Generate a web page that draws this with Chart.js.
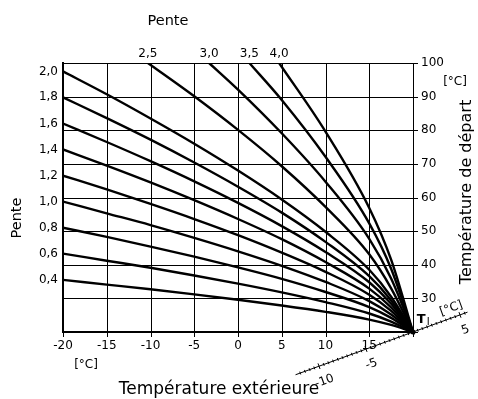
<!DOCTYPE html>
<html>
<head>
<meta charset="utf-8">
<script src="https://cdn.jsdelivr.net/npm/chart.js@4"></script>
<style>
  html, body { margin: 0; padding: 0; background: #fff; }
  #wrap { width: 478px; height: 399px; }
</style>
</head>
<body>
<div id="wrap"><canvas id="chart" width="478" height="399"></canvas></div>
<script>
// DATA
const outdoorTemps = [-20, -15, -10, -5, 0, 5, 10, 15, 17.5, 20];

const slopeLabels = ["0,4", "0,6", "0,8", "1,0", "1,2", "1,4", "1,6", "1,8", "2,0", "2,5", "3,0", "3,5", "4,0"];

const flow04 = [35.5, 34.1, 32.7, 31.2, 29.6, 27.9, 26.0, 23.7, 22.1, 20];
const flow06 = [43.3, 41.2, 39.1, 36.8, 34.4, 31.8, 28.9, 25.5, 23.1, 20];
const flow08 = [51.0, 48.3, 45.4, 42.4, 39.2, 35.8, 31.9, 27.4, 24.2, 20];
const flow10 = [58.8, 55.3, 51.8, 48.0, 44.0, 39.7, 34.9, 29.2, 25.2, 20];
const flow12 = [66.5, 62.4, 58.1, 53.6, 48.8, 43.6, 37.9, 31.1, 26.3, 20];
const flow14 = [74.3, 69.5, 64.5, 59.2, 53.6, 47.6, 40.8, 32.9, 27.3, 20];
const flow16 = [82.0, 76.5, 70.8, 64.8, 58.4, 51.5, 43.8, 34.8, 28.4, 20];
const flow18 = [89.8, 83.6, 77.2, 70.4, 63.2, 55.5, 46.8, 36.6, 29.4, 20];
const flow20 = [97.5, 90.7, 83.5, 76.0, 68.0, 59.4, 49.8, 38.5, 30.5, 20];
const flow25 = [null, null, null, 90.1, 80.1, 69.3, 57.2, 43.1, 33.0, 20];
const flow30 = [null, null, null, null, 92.1, 79.1, 64.7, 47.7, 35.9, 20];
const flow35 = [null, null, null, null, null, 89.0, 72.1, 52.3, 38.8, 20];
const flow40 = [null, null, null, null, null, null, 79.6, 56.9, 41.5, 20];

// outdoor temp where the steep curves (2,5 .. 4,0) leave the 100 °C line
const steepStartTemps = [-10.3, -3.3, 1.3, 4.7];

// room temperature scale (bottom right, tilted)
const roomTicks = [-10, -5, 5];

const flows = [flow04, flow06, flow08, flow10, flow12, flow14, flow16, flow18, flow20, flow25, flow30, flow35, flow40];

const FONT = "'DejaVu Sans', sans-serif";
Chart.defaults.font.family = FONT;
Chart.defaults.color = "#000";

// build points, steep curves start on the top edge
const datasets = flows.map((flow, i) => {
  const pts = [];
  const steep = i - 9;
  if (steep >= 0) pts.push({ x: steepStartTemps[steep], y: 100 });
  flow.forEach((v, j) => {
    if (v !== null) pts.push({ x: outdoorTemps[j], y: v });
  });
  return {
    label: slopeLabels[i],
    data: pts,
    borderColor: "#000",
    borderWidth: 2.4,
    pointRadius: 0,
    fill: false,
    cubicInterpolationMode: "monotone",
    xAxisID: "x",
    yAxisID: "y"
  };
});

const leftTickValues = flows.slice(0, 9).map(f => f[0]);

// GRID (from the scale ticks, with short outer tick marks)
const gridLines = {
  id: "gridLines",
  beforeDatasetsDraw(chart) {
    const { ctx, chartArea: ca, scales: { x, y } } = chart;
    ctx.save();
    ctx.strokeStyle = "#000";
    ctx.lineWidth = 1;
    ctx.beginPath();
    x.ticks.forEach(t => {
      const px = Math.round(x.getPixelForValue(t.value)) + 0.5;
      ctx.moveTo(px, ca.top);
      ctx.lineTo(px, ca.bottom + 5);
    });
    y.ticks.forEach(t => {
      const py = Math.round(y.getPixelForValue(t.value)) + 0.5;
      ctx.moveTo(ca.left, py);
      ctx.lineTo(ca.right + 5, py);
    });
    ctx.stroke();
    ctx.restore();
  }
};

// TEXT + ROOM TEMPERATURE AXIS
const extras = {
  id: "extras",
  afterDraw(chart) {
    const { ctx, scales } = chart;
    const ox = scales.x.getPixelForValue(20);
    const oy = scales.y.getPixelForValue(20);

    ctx.save();
    ctx.fillStyle = "#000";
    ctx.strokeStyle = "#000";
    ctx.textAlign = "center";
    ctx.textBaseline = "middle";

    ctx.font = "14.5px " + FONT;
    ctx.fillText("Pente", 168, 21);

    ctx.save();
    ctx.translate(17, 218);
    ctx.rotate(-Math.PI / 2);
    ctx.fillText("Pente", 0, 0);
    ctx.restore();

    ctx.font = "16px " + FONT;
    ctx.save();
    ctx.translate(467, 192);
    ctx.rotate(-Math.PI / 2);
    ctx.fillText("Température de départ", 0, 0);
    ctx.restore();

    ctx.font = "17px " + FONT;
    ctx.fillText("Température extérieure", 219, 390);

    ctx.font = "12px " + FONT;
    ctx.fillText("[°C]", 455, 82);
    ctx.fillText("[°C]", 86, 365);

    // tilted room temperature scale through the meeting point
    const a = 20 * Math.PI / 180;
    const ux = Math.cos(a), uy = -Math.sin(a);
    const nx = Math.sin(a), ny = Math.cos(a);
    const ppu = 10;
    const at = (u, off) => [ox + u * ppu * ux + off * nx, oy + u * ppu * uy + off * ny];

    ctx.lineWidth = 1;
    ctx.beginPath();
    let p = at(-12.5, 0); ctx.moveTo(p[0], p[1]);
    p = at(5.8, 0); ctx.lineTo(p[0], p[1]);
    ctx.stroke();

    for (let u = -12; u <= 5.5; u += 0.5) {
      const len = (u % 5 === 0) ? 3 : 1.5;
      const p1 = at(u, -len), p2 = at(u, len);
      ctx.beginPath();
      ctx.moveTo(p1[0], p1[1]);
      ctx.lineTo(p2[0], p2[1]);
      ctx.stroke();
    }

    ctx.font = "12px " + FONT;
    roomTicks.forEach(v => {
      const q = at(v, 16);
      ctx.save();
      ctx.translate(q[0], q[1]);
      ctx.rotate(-a);
      ctx.fillText(String(v), 0, 0);
      ctx.restore();
    });

    let q = at(4.4, -9);
    ctx.save();
    ctx.translate(q[0], q[1]);
    ctx.rotate(-a);
    ctx.fillText("[°C]", 0, 0);
    ctx.restore();

    q = at(1.2, -9);
    ctx.font = "bold 13px " + FONT;
    ctx.fillText("T", q[0], q[1]);
    ctx.font = "10px " + FONT;
    ctx.fillText("I", q[0] + 7, q[1] + 3);

    ctx.beginPath();
    ctx.arc(ox, oy, 2.5, 0, Math.PI * 2);
    ctx.fill();

    ctx.restore();
  }
};

new Chart(document.getElementById("chart"), {
  type: "line",
  data: { datasets: datasets },
  options: {
    responsive: false,
    animation: false,
    devicePixelRatio: 1,
    layout: { padding: 0 },
    plugins: { legend: { display: false }, tooltip: { enabled: false } },
    scales: {
      x: {
        type: "linear", position: "bottom", min: -20, max: 20,
        afterFit: s => { s.height = 67; },
        ticks: { stepSize: 5, padding: 7, font: { size: 12 }, maxRotation: 0,
          callback: v => v === 20 ? "" : String(v) },
        grid: { display: false, drawTicks: false },
        border: { color: "#000", width: 2 }
      },
      x2: {
        type: "linear", position: "top", min: -20, max: 20,
        afterBuildTicks: s => { s.ticks = steepStartTemps.map(v => ({ value: v })); },
        afterFit: s => { s.height = 63; },
        ticks: { padding: 2, font: { size: 12 }, autoSkip: false, maxRotation: 0,
          callback: (v, i) => slopeLabels[9 + i] },
        grid: { display: false, drawTicks: false },
        border: { color: "#000", width: 1 }
      },
      yL: {
        type: "linear", position: "left", min: 20, max: 100,
        afterBuildTicks: s => { s.ticks = leftTickValues.map(v => ({ value: v })); },
        afterFit: s => { s.width = 63; },
        ticks: { padding: 5, font: { size: 12 }, autoSkip: false,
          callback: (v, i) => slopeLabels[i] },
        grid: { display: false, drawTicks: false },
        border: { color: "#000", width: 2 }
      },
      y: {
        type: "linear", position: "right", min: 20, max: 100,
        afterFit: s => { s.width = 65; },
        ticks: { stepSize: 10, padding: 8, font: { size: 12 },
          callback: v => v === 20 ? "" : String(v) },
        grid: { display: false, drawTicks: false },
        border: { color: "#000", width: 1 }
      }
    }
  },
  plugins: [gridLines, extras]
});
</script>
</body>
</html>
